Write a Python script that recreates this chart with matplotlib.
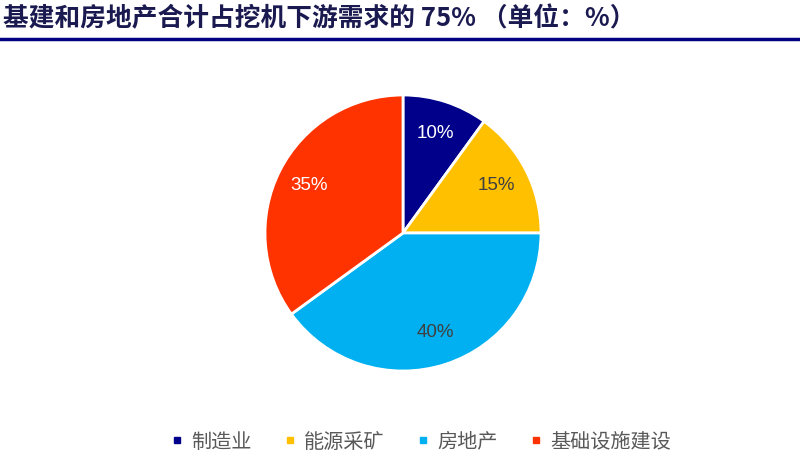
import matplotlib.pyplot as plt
from matplotlib.lines import Line2D

plt.rcParams['font.family'] = ['Noto Sans CJK SC', 'DejaVu Sans']

# data
categories = ['制造业', '能源采矿', '房地产', '基础设施建设']
shares = [10, 15, 40, 35]
colors = ['#00008B', '#FFC000', '#00B0F0', '#FF3300']
label_colors = ['white', '#404040', '#404040', 'white']
title = '基建和房地产合计占挖机下游需求的 75% （单位：%）'

fig = plt.figure(figsize=(8, 4.74), dpi=100)

# title and underline
fig.text(0.004, 1 - 19 / 474, title, fontsize=18.5, fontweight='bold',
         color='#1a1a50', va='center', ha='left')
fig.add_artist(Line2D([0, 1], [1 - 39 / 474] * 2, color='#000080', lw=2.5))

# pie
cx, cy, r = 403, 474 - 233, 138
ax = fig.add_axes([(cx - r) / 800, (cy - r) / 474, 2 * r / 800, 2 * r / 474])
wedges, texts, autotexts = ax.pie(
    shares, colors=colors, startangle=90, counterclock=False,
    autopct='%d%%', pctdistance=0.76,
    wedgeprops=dict(edgecolor='white', linewidth=2),
    textprops=dict(fontsize=13.5, family=['Arial', 'Liberation Sans', 'DejaVu Sans']))
for t, c in zip(autotexts, label_colors):
    t.set_color(c)
ax.set_xlim(-1.0, 1.0)
ax.set_ylim(-1.0, 1.0)
ax.axis('off')

# legend
handles = [Line2D([], [], marker='s', linestyle='', color=c, markersize=5)
           for c in colors]
fig.legend(handles, categories, loc='center', bbox_to_anchor=(0.525, 1 - 442 / 474),
           ncol=4, frameon=False, fontsize=14.5, labelcolor='#595959',
           handletextpad=0.3, columnspacing=1.5, handlelength=0.8)

plt.savefig('out.png', dpi=100)
